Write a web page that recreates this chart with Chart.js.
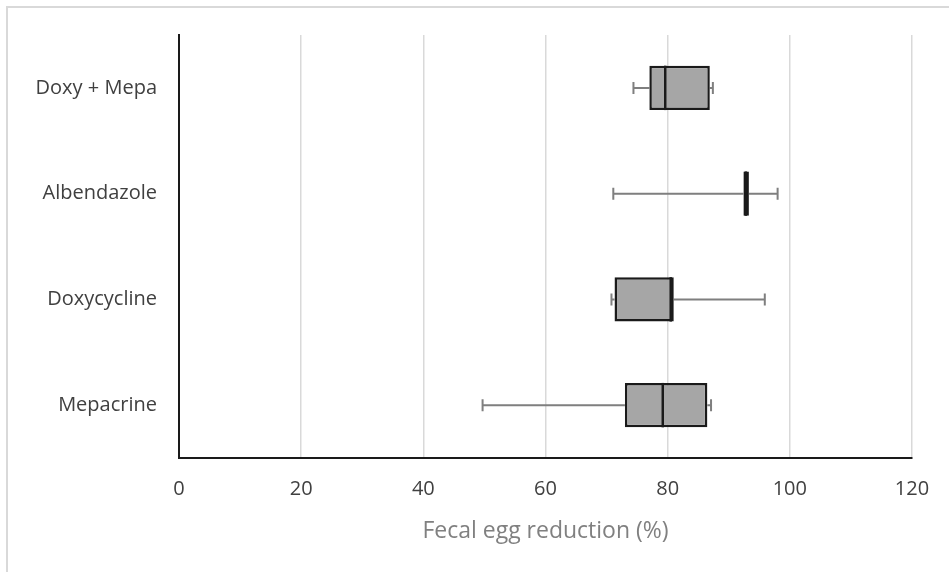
<!DOCTYPE html>
<html>
<head>
<meta charset="utf-8">
<script src="https://cdn.jsdelivr.net/npm/chart.js@4.4.1/dist/chart.umd.min.js"></script>
<style>
  html, body { margin: 0; padding: 0; background: #fff; }
  #wrap { width: 949px; height: 572px; position: relative; }
</style>
</head>
<body>
<div id="wrap"><canvas id="boxChart"></canvas></div>
<script>
// Dữ liệu box plot
const treatments = ["Doxy + Mepa", "Albendazole", "Doxycycline", "Mepacrine"];
const minValues = [74.4, 71.1, 70.8, 49.7];
const q1Values = [77.0, 92.4, 71.3, 73.0];
const medianValues = [79.6, 92.8, 80.5, 79.2];
const q3Values = [86.9, 93.3, 81.0, 86.5];
const maxValues = [87.4, 98.0, 95.9, 87.1];
const xTicks = [0, 20, 40, 60, 80, 100, 120];

// Plugin vẽ râu (whisker), trung vị và khung ngoài
const boxExtras = {
    id: 'boxExtras',
    beforeDraw(chart) {
        const ctx = chart.ctx;
        ctx.save();
        ctx.strokeStyle = '#d9d9d9';
        ctx.lineWidth = 2;
        ctx.beginPath();
        ctx.moveTo(7, 572);
        ctx.lineTo(7, 7);
        ctx.lineTo(949, 7);
        ctx.stroke();
        ctx.restore();
    },
    beforeDatasetsDraw(chart) {
        const ctx = chart.ctx;
        const x = chart.scales.x, y = chart.scales.y;
        ctx.save();
        ctx.strokeStyle = '#7f7f7f';
        ctx.lineWidth = 2;
        treatments.forEach((t, i) => {
            const cy = y.getPixelForValue(i);
            const xMin = x.getPixelForValue(minValues[i]);
            const xMax = x.getPixelForValue(maxValues[i]);
            ctx.beginPath();
            ctx.moveTo(xMin, cy);
            ctx.lineTo(x.getPixelForValue(q1Values[i]), cy);
            ctx.moveTo(x.getPixelForValue(q3Values[i]), cy);
            ctx.lineTo(xMax, cy);
            ctx.moveTo(xMin, cy - 6);
            ctx.lineTo(xMin, cy + 6);
            ctx.moveTo(xMax, cy - 6);
            ctx.lineTo(xMax, cy + 6);
            ctx.stroke();
        });
        ctx.restore();
    },
    afterDatasetsDraw(chart) {
        const ctx = chart.ctx;
        const x = chart.scales.x;
        const meta = chart.getDatasetMeta(0);
        ctx.save();
        ctx.strokeStyle = '#1a1a1a';
        ctx.lineWidth = 2.5;
        meta.data.forEach((bar, i) => {
            const mx = x.getPixelForValue(medianValues[i]);
            const h = bar.height / 2;
            ctx.beginPath();
            ctx.moveTo(mx, bar.y - h);
            ctx.lineTo(mx, bar.y + h);
            ctx.stroke();
        });
        ctx.restore();
    }
};

function renderChart() {
    const ctx = document.getElementById('boxChart').getContext('2d');
    new Chart(ctx, {
        type: 'bar',
        data: {
            labels: treatments,
            datasets: [{
                label: 'IQR',
                data: treatments.map((t, i) => [q1Values[i], q3Values[i]]),
                backgroundColor: '#a6a6a6',
                borderColor: '#1a1a1a',
                borderWidth: 2.5,
                borderSkipped: false,
                barPercentage: 0.42,
                categoryPercentage: 1
            }]
        },
        options: {
            indexAxis: 'y',
            responsive: true,
            maintainAspectRatio: false,
            animation: false,
            layout: { padding: { top: 35, right: 37, left: 0, bottom: 0 } },
            plugins: {
                legend: { display: false },
                tooltip: { enabled: false }
            },
            scales: {
                x: {
                    type: 'linear',
                    min: 0,
                    max: 120,
                    afterBuildTicks: (s) => { s.ticks = xTicks.map(v => ({ value: v })); },
                    afterFit: (s) => { s.height = 114; },
                    grid: {
                        color: (c) => c.tick && c.tick.value === 0 ? 'rgba(0,0,0,0)' : '#d9d9d9',
                        lineWidth: 1.5,
                        drawTicks: false
                    },
                    border: { color: '#1a1a1a', width: 2 },
                    ticks: {
                        padding: 19,
                        color: '#404040',
                        font: { family: 'Open Sans', size: 20 }
                    },
                    title: {
                        display: true,
                        text: 'Fecal egg reduction (%)',
                        color: '#808080',
                        font: { family: 'Open Sans', size: 23 },
                        padding: { top: 0, bottom: 27 }
                    }
                },
                y: {
                    afterFit: (s) => { s.width = 179; },
                    grid: { color: 'rgba(0,0,0,0)', drawTicks: false },
                    border: { color: '#1a1a1a', width: 2 },
                    ticks: {
                        padding: 22,
                        color: '#404040',
                        font: { family: 'Open Sans', size: 20 }
                    }
                }
            }
        },
        plugins: [boxExtras]
    });
}

document.addEventListener('DOMContentLoaded', renderChart);
</script>
</body>
</html>
